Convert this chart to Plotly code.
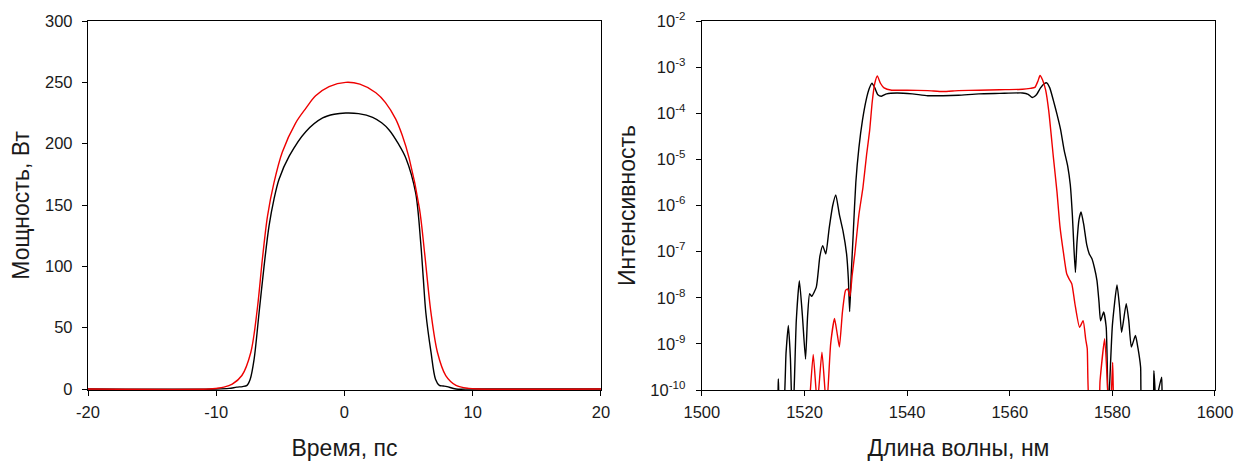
import numpy as np
import plotly.graph_objects as go

# ---------------- Left panel: temporal profile ----------------
time_red = [-20, -10.5, -10.0, -9.4, -8.75, -8.0, -7.3, -6.8, -6.4, -6.0, -5.5, -4.85,
            -3.8, -3.0, -2.25, -1.2, 0.1, 1.2, 2.45, 3.2, 4.0, 4.5, 5.05, 5.85, 6.25,
            6.75, 7.25, 7.9, 8.7, 9.7, 10.4, 20]
power_red = [0, 0, 0.5, 1.5, 4, 11, 30, 65, 106, 141, 168, 193,
             217, 229, 239, 246.5, 250, 248.5, 241.5, 233.5, 220, 207, 188, 147, 111,
             62, 30, 11, 3, 0.5, 0, 0]

time_black = [-20, -10.0, -9.0, -8.4, -7.95, -7.6, -7.35, -7.05, -6.66, -6.27, -5.88,
              -5.49, -5.1, -4.3, -3.0, -1.7, -0.8, 0.1, 1.1, 2.2, 2.9, 3.5, 4.2, 4.8,
              5.55, 5.95, 6.15, 6.35, 6.75, 7.1, 7.4, 7.7, 8.0, 8.7, 10.0, 20]
power_black = [0, 0, 0.5, 1.5, 2, 3, 8, 24, 62, 100, 133,
               155, 171, 190, 210, 221, 224, 225, 224.5, 221.5, 217, 211, 200, 188,
               160, 119, 90, 62, 30, 8, 3, 2.5, 2, 0, 0, 0]

# ---------------- Right panel: spectra (log10 of intensity) ----------------
wl_black = [1513.5, 1514.6, 1514.9, 1515.2, 1515.9, 1516.4, 1516.85, 1517.25, 1517.6, 1517.9,
            1518.4, 1519.0, 1519.6, 1520.2, 1520.6, 1521.0, 1521.4, 1522.3, 1523.0, 1523.55,
            1524.15, 1524.8, 1525.5, 1526.1, 1526.8, 1527.5, 1528.2, 1528.55, 1528.8, 1529.1,
            1529.5, 1530.0, 1530.6, 1531.3, 1532.0, 1532.6, 1533.15, 1533.7, 1534.3, 1535.0,
            1536.0, 1538.0, 1541.0, 1544.0, 1547.0, 1550.0, 1554.0, 1558.0, 1562.5, 1563.6,
            1564.4, 1565.2, 1566.0, 1566.7, 1567.2, 1567.8, 1568.5, 1569.2, 1569.9, 1570.6,
            1571.3, 1571.8, 1572.2, 1572.5, 1572.8, 1573.1, 1573.5, 1573.9, 1574.4, 1575.0,
            1575.5, 1576.0, 1576.5, 1577.0, 1577.4, 1577.7, 1578.3, 1578.8, 1579.2, 1579.5,
            1580.0, 1580.9, 1581.4, 1581.8, 1582.7, 1583.2, 1583.7, 1584.5, 1585.0, 1585.5,
            1585.9, 1587.7, 1588.1, 1588.5, 1589.0, 1589.6, 1589.9, 1591.0]
logI_black = [-10.6, -10.5, -9.76, -10.5, -10.4, -9.2, -8.6, -9.3, -10.5, -10.2,
              -8.5, -7.63, -8.4, -9.33, -8.4, -7.91, -7.97, -7.77, -7.1, -6.87,
              -7.05, -6.5, -6.0, -5.77, -6.2, -6.55, -7.05, -7.6, -8.3, -7.5,
              -6.6, -5.5, -4.75, -4.15, -3.72, -3.47, -3.35, -3.45, -3.6, -3.63,
              -3.58, -3.56, -3.58, -3.62, -3.62, -3.61, -3.58, -3.57, -3.56, -3.59,
              -3.66, -3.6, -3.45, -3.36, -3.34, -3.45, -3.72, -4.02, -4.35, -4.8,
              -5.15, -5.55, -6.2, -6.9, -7.45, -6.8, -6.3, -6.14, -6.4, -6.85,
              -7.05, -7.15, -7.35, -7.63, -8.1, -8.5, -8.31, -8.64, -10.5, -9.8,
              -8.6, -7.72, -8.2, -8.75, -8.13, -8.5, -9.07, -8.82, -9.1, -9.5,
              -10.5, -10.5, -9.58, -10.3, -10.0, -9.72, -10.5, -10.6]

wl_red = [1520.6, 1520.95, 1521.7, 1522.5, 1523.4, 1524.3, 1525.1, 1525.85, 1526.4, 1526.8,
          1527.4, 1528.0, 1528.4, 1528.85, 1529.3, 1529.8, 1530.6, 1531.4, 1532.1, 1532.7,
          1533.2, 1533.7, 1534.2, 1534.8, 1535.5, 1537.0, 1540.0, 1544.0, 1547.0, 1550.0,
          1554.0, 1558.0, 1562.5, 1564.0, 1564.9, 1565.5, 1565.9, 1566.4, 1567.0, 1567.6,
          1568.5, 1569.2, 1569.8, 1570.5, 1571.1, 1571.6, 1572.1, 1572.7, 1573.6, 1574.3,
          1574.8, 1575.1, 1575.7, 1577.2, 1577.6, 1578.5, 1579.0, 1579.3, 1579.7, 1580.05,
          1580.4, 1581.0]
logI_red = [-10.6, -10.3, -9.23, -10.3, -9.18, -10.4, -9.0, -8.45, -8.8, -9.07,
            -8.3, -7.84, -7.81, -7.97, -7.5, -7.05, -6.2, -5.6, -4.9, -4.37,
            -3.75, -3.35, -3.19, -3.35, -3.45, -3.5, -3.5, -3.51, -3.53, -3.51,
            -3.5, -3.49, -3.48, -3.46, -3.44, -3.3, -3.18, -3.28, -3.5, -3.95,
            -4.95, -5.7, -6.47, -7.05, -7.48, -7.6, -7.7, -8.13, -8.64, -8.5,
            -8.9, -9.1, -10.5, -10.5, -9.8, -8.89, -9.8, -10.5, -10.3, -9.4,
            -10.5, -10.6]

x_ticks_left = [-20, -10, 0, 10, 20]
x_ticklabels_left = ["-20", "-10", "0", "10", "20"]
y_ticks_left = [0, 50, 100, 150, 200, 250, 300]
x_ticks_right = [1500, 1520, 1540, 1560, 1580, 1600]
y_exponents_right = [-10, -9, -8, -7, -6, -5, -4, -3, -2]

FONT = "Liberation Sans, Arial, sans-serif"
TXT = "#1a1a1a"
RED = "#ee0000"

fig = go.Figure()
fig.add_trace(go.Scatter(x=time_black, y=power_black, mode="lines",
                         line=dict(color="black", width=1.4, shape="spline", smoothing=0.9),
                         xaxis="x", yaxis="y", showlegend=False))
fig.add_trace(go.Scatter(x=time_red, y=power_red, mode="lines",
                         line=dict(color=RED, width=1.4, shape="spline", smoothing=0.9),
                         xaxis="x", yaxis="y", showlegend=False))
fig.add_trace(go.Scatter(x=wl_black, y=[10 ** v for v in logI_black], mode="lines",
                         line=dict(color="black", width=1.4, shape="spline", smoothing=0.5),
                         xaxis="x2", yaxis="y2", showlegend=False))
fig.add_trace(go.Scatter(x=wl_red, y=[10 ** v for v in logI_red], mode="lines",
                         line=dict(color=RED, width=1.4, shape="spline", smoothing=0.5),
                         xaxis="x2", yaxis="y2", showlegend=False))

axis_common = dict(showline=True, mirror=True, linecolor="black", linewidth=1.3,
                   ticks="outside", ticklen=5, tickwidth=1.2, tickcolor="black",
                   showgrid=False, zeroline=False, automargin=False,
                   tickfont=dict(family=FONT, size=16.5, color=TXT))
title_font = dict(family=FONT, size=23, color=TXT)

# The page body adds an 8 px offset, so the figure is 8 px smaller and margins compensate.
fig.update_layout(
    width=1246, height=453,
    margin=dict(l=80, r=39, t=13, b=71, autoexpand=False),
    paper_bgcolor="white", plot_bgcolor="white",
    xaxis=dict(domain=[0, 0.4551], range=[-20, 20], tickvals=x_ticks_left,
               ticktext=x_ticklabels_left, layer="below traces", ticklabelstandoff=2,
               title=dict(text="Время, пс", font=title_font, standoff=21),
               anchor="y", **axis_common),
    yaxis=dict(range=[-0.8, 300], tickvals=y_ticks_left, layer="below traces",
               ticklabelstandoff=6,
               title=dict(text="Мощность, Вт", font=title_font, standoff=9),
               anchor="x", **axis_common),
    xaxis2=dict(domain=[0.5447, 1], range=[1500, 1600], tickvals=x_ticks_right,
                ticklabelstandoff=2,
                title=dict(text="Длина волны, нм", font=title_font, standoff=21),
                anchor="y2", **axis_common),
    yaxis2=dict(type="log", range=[-10, -2],
                tickvals=[10.0 ** e for e in y_exponents_right],
                ticktext=["10<sup>%d</sup>" % e for e in y_exponents_right],
                ticklabelstandoff=7,
                title=dict(text="Интенсивность", font=title_font, standoff=8),
                anchor="x2", **axis_common),
)

fig.write_html("out.html")
